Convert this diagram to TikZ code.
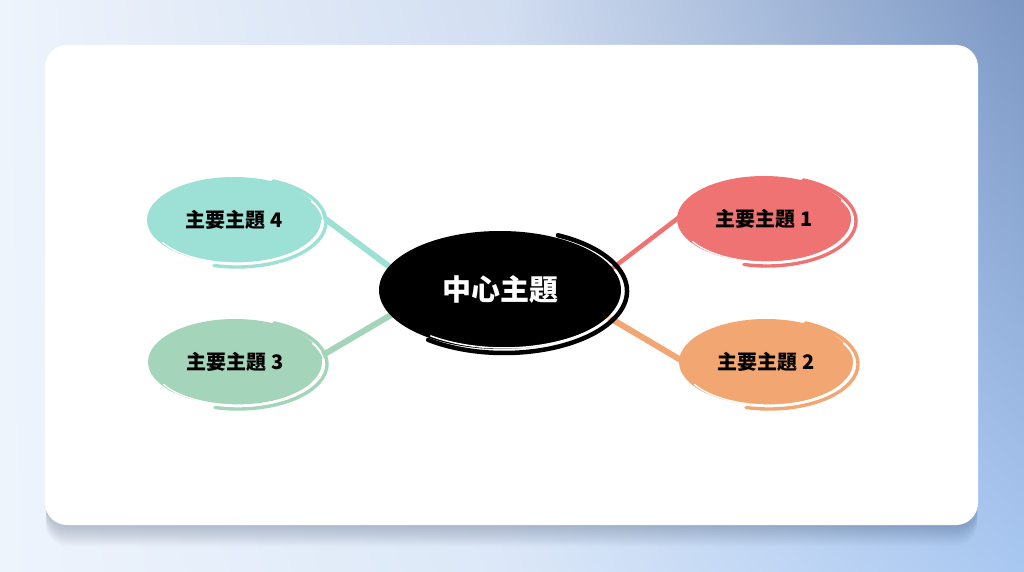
\documentclass[tikz,border=0pt]{standalone}
\usepackage{fontspec}
\newfontfamily\cjk{Noto Sans CJK TC}
\usetikzlibrary{shapes.geometric,shadings,calc}
\definecolor{cteal}{HTML}{9DE0D6}
\definecolor{cgreen}{HTML}{A4D4B9}
\definecolor{cred}{HTML}{EE7372}
\definecolor{corange}{HTML}{F2A672}
\definecolor{bgA}{HTML}{EEF4FC}
\definecolor{bgB}{HTML}{D2DEF1}
\definecolor{bgC}{HTML}{DCE8F8}
\definecolor{bgD}{HTML}{7B97C3}
\definecolor{bgE}{HTML}{A8C7F1}
\definecolor{shadowc}{HTML}{2A3A55}
\pgfdeclarelayer{bg}
\pgfdeclarelayer{edges}
\pgfsetlayers{bg,edges,main}
\tikzset{
  topic/.style={ellipse, fill=#1, minimum width=174pt, minimum height=86pt, inner sep=0pt,
    font=\cjk\bfseries\fontsize{20}{20}\selectfont, text=black},
  central/.style={ellipse, fill=black, minimum width=242pt, minimum height=118pt, inner sep=0pt,
    font=\cjk\bfseries\fontsize{29}{29}\selectfont, text=white},
  link/.style={line width=6pt, draw=#1, shorten <=-5pt, shorten >=-5pt},
  swoosh/.style={line width=3.4pt, draw=#1, line cap=round},
  glint/.style={draw=white, line width=1.3pt, line cap=round}
}
\newcommand\topicswoosh[2]{%
  \draw[swoosh=#2] ($(#1.center)+(3,-2)$) ++(66:89pt and 45pt) arc[start angle=66, end angle=-105, x radius=89pt, y radius=45pt];
  \draw[glint] ($(#1.center)+(3,-2)$) ++(30:86pt and 41pt) arc[start angle=30, end angle=-150, x radius=86pt, y radius=41pt];
}
\begin{document}
\begin{tikzpicture}[x=1pt,y=1pt]
\useasboundingbox (0,0) rectangle (1024,571);
\begin{pgfonlayer}{bg}
  \shade[upper left=bgA, lower left=bgA, upper right=bgB, lower right=bgC] (0,0) rectangle (500,571);
  \shade[upper left=bgB, lower left=bgC, upper right=bgD, lower right=bgE] (500,0) rectangle (1024,571);
  \foreach \i in {1,...,14}
    \fill[shadowc, opacity=0.02, rounded corners=22pt] (46,{46-1.5*\i}) rectangle (977,{520-1.5*\i});
  \fill[white, rounded corners=22pt] (45,46) rectangle (978,526);
\end{pgfonlayer}

\node[central] (c) at (500,281) {中心主題};
\node[topic=cteal] (t4) at (234,351) {主要主題 4};
\node[topic=cgreen] (t3) at (235,209) {主要主題 3};
\node[topic=cred] (t1) at (764,352) {主要主題 1};
\node[topic=corange] (t2) at (766,209) {主要主題 2};

\topicswoosh{t4}{cteal}
\topicswoosh{t3}{cgreen}
\topicswoosh{t1}{cred}
\topicswoosh{t2}{corange}
\draw[line width=4.5pt, black, line cap=round] ($(c.center)+(4,-1)$) ++(64:123pt and 62pt) arc[start angle=64, end angle=-128, x radius=123pt, y radius=62pt];
\draw[glint, line width=1.5pt] ($(c.center)+(4,-1)$) ++(22:119pt and 57pt) arc[start angle=22, end angle=-128, x radius=119pt, y radius=57pt];

\begin{pgfonlayer}{edges}
  \draw[link=cteal] (t4.3) -- (c.168);
  \draw[link=cgreen] (t3.4) -- (c.-167);
  \draw[link=cred, line width=4.5pt] (t1.180) -- (c.11);
  \draw[link=corange] (t2.178) -- (c.-14);
\end{pgfonlayer}
\end{tikzpicture}
\end{document}
